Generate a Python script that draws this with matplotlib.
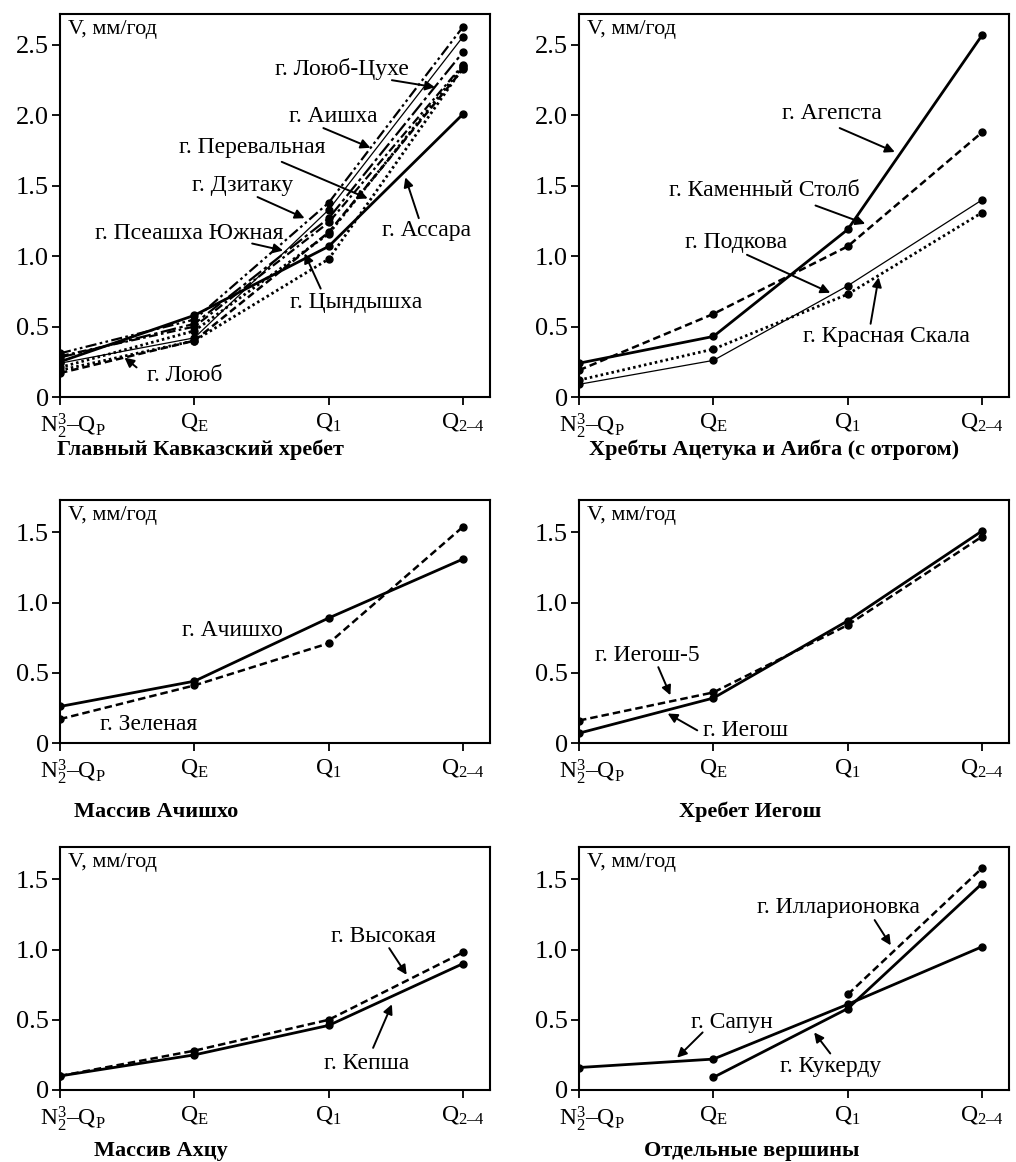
import numpy as np
import matplotlib.pyplot as plt
import matplotlib.transforms as mtransforms

plt.rcParams["font.family"] = ["Liberation Serif", "DejaVu Serif"]
plt.rcParams["mathtext.fontset"] = "custom"
plt.rcParams["mathtext.rm"] = "Liberation Serif"
plt.rcParams["mathtext.it"] = "Liberation Serif:italic"
plt.rcParams["mathtext.bf"] = "Liberation Serif:bold"

# ── Data ──────────────────────────────────────────────────────────────────────

STAGES = [r"$\mathrm{N}_2^3$–$\mathrm{Q}_\mathrm{P}$", r"$\mathrm{Q}_\mathrm{E}$",
          r"$\mathrm{Q}_1$", r"$\mathrm{Q}_{\mathrm{2–4}}$"]
X = [0, 1, 2, 3]
Y_LABEL = "V, мм/год"

# Главный Кавказский хребет
AISHKHA      = [0.31, 0.55, 1.38, 2.63]
LOYUB_TSUKHE = [0.24, 0.42, 1.33, 2.56]
PEREVALNAYA  = [0.28, 0.52, 1.27, 2.45]
DZITAKU      = [0.29, 0.50, 1.24, 2.36]
PSEASHKHA    = [0.21, 0.47, 1.16, 2.35]
TSYNDYSHKHA  = [0.19, 0.40, 0.98, 2.34]
ASSARA       = [0.25, 0.58, 1.07, 2.01]
LOYUB        = [0.17, 0.40, 1.17, 2.33]

# Хребты Ацетука и Аибга
AGEPSTA  = [0.24, 0.43, 1.19, 2.57]
KAMENNY  = [0.19, 0.59, 1.07, 1.88]
PODKOVA  = [0.09, 0.26, 0.79, 1.40]
KRASNAYA = [0.12, 0.34, 0.73, 1.31]

# Массив Ачишхо
ACHISHKHO = [0.26, 0.44, 0.89, 1.31]
ZELENAYA  = [0.17, 0.41, 0.71, 1.54]

# Хребет Иегош
IEGOSH  = [0.07, 0.32, 0.87, 1.51]
IEGOSH5 = [0.16, 0.36, 0.84, 1.47]

# Массив Ахцу
KEPSHA   = [0.10, 0.25, 0.46, 0.90]
VYSOKAYA = [0.10, 0.28, 0.50, 0.98]

# Отдельные вершины
SAPUN        = [0.16, 0.22, 0.61, 1.02]
KUKERDU      = [None, 0.09, 0.58, 1.47]
ILLARIONOVKA = [None, None, 0.68, 1.58]

TITLES = ["Главный Кавказский хребет", "Хребты Ацетука и Аибга (с отрогом)",
          "Массив Ачишхо", "Хребет Иегош", "Массив Ахцу", "Отдельные вершины"]

# ── Styles ────────────────────────────────────────────────────────────────────

THICK  = dict(ls="-", lw=2.0)
THIN   = dict(ls="-", lw=0.9)
DASHED = dict(ls=(0, (3, 1.6)), lw=1.8)
DOTTED = dict(ls=(0, (0.9, 1.1)), lw=2.0)
DDOT   = dict(ls=(0, (5, 1.5, 1.2, 1.5, 1.2, 1.5)), lw=1.6)
DDASH  = dict(ls=(0, (7, 1.6, 1.5, 1.6)), lw=1.6)
DDSH2  = dict(ls=(0, (4, 1.5, 1.2, 1.5)), lw=1.6)


def draw(ax, series, ymax, yticks):
    for vals, st in series:
        y = np.array(vals, dtype=float)
        ax.plot(X, y, color="black", marker="o", ms=5, solid_capstyle="butt",
                dash_capstyle="butt", **st)
    ax.set_xlim(0, 3.2)
    ax.set_ylim(0, ymax)
    ax.set_xticks(X)
    ax.set_xticklabels(STAGES, fontsize=17)
    ax.set_yticks(yticks)
    ax.set_yticklabels(["0" if t == 0 else f"{t:.1f}" for t in yticks], fontsize=19)
    ax.tick_params(direction="out", length=6, width=1.3, pad=2)
    ax.tick_params(axis="x", pad=4)
    for s in ax.spines.values():
        s.set_linewidth(1.5)
    lab = ax.get_xticklabels()[0]
    lab.set_transform(lab.get_transform() +
                      mtransforms.ScaledTranslation(13 / 100, 0, ax.figure.dpi_scale_trans))
    ax.annotate(Y_LABEL, xy=(0, 1), xycoords="axes fraction", xytext=(6, -4),
                textcoords="offset points", ha="left", va="top", fontsize=16)


def label(ax, text, pos, tail=None, tip=None):
    ax.text(pos[0], pos[1], text, ha="center", va="center", fontsize=17)
    if tail is not None:
        ax.annotate("", xy=tip, xytext=tail,
                    arrowprops=dict(arrowstyle="-|>", color="black", lw=1.4,
                                    mutation_scale=14, shrinkA=0, shrinkB=0))


fig = plt.figure(figsize=(10.16, 11.62), dpi=100)
W, H = 1016, 1162
def axes_at(left, top, width, height):
    return fig.add_axes([left / W, (H - top - height) / H, width / W, height / H])

ax1 = axes_at(60, 14, 430, 383)
ax2 = axes_at(579, 14, 430, 383)
ax3 = axes_at(60, 500, 430, 243)
ax4 = axes_at(579, 500, 430, 243)
ax5 = axes_at(60, 847, 430, 243)
ax6 = axes_at(579, 847, 430, 243)

draw(ax1, [(AISHKHA, DDOT), (LOYUB_TSUKHE, THIN), (PEREVALNAYA, DDASH),
           (DZITAKU, DDSH2), (PSEASHKHA, DOTTED), (TSYNDYSHKHA, DOTTED),
           (LOYUB, DASHED), (ASSARA, THICK)], 2.72, [0, 0.5, 1.0, 1.5, 2.0, 2.5])
label(ax1, "г. Лоюб-Цухе", (2.10, 2.33), (2.47, 2.25), (2.79, 2.20))
label(ax1, "г. Аишха", (2.03, 1.99), (1.96, 1.91), (2.31, 1.77))
label(ax1, "г. Перевальная", (1.43, 1.77), (1.65, 1.67), (2.29, 1.41))
label(ax1, "г. Дзитаку", (1.36, 1.50), (1.47, 1.42), (1.82, 1.27))
label(ax1, "г. Псеашха Южная", (0.96, 1.16), (1.43, 1.09), (1.66, 1.04))
label(ax1, "г. Цындышха", (2.20, 0.67), (1.94, 0.77), (1.82, 1.02))
label(ax1, "г. Ассара", (2.73, 1.18), (2.67, 1.27), (2.57, 1.56))
label(ax1, "г. Лоюб", (0.93, 0.15), (0.57, 0.21), (0.48, 0.28))

draw(ax2, [(AGEPSTA, THICK), (KAMENNY, DASHED), (PODKOVA, THIN),
           (KRASNAYA, DOTTED)], 2.72, [0, 0.5, 1.0, 1.5, 2.0, 2.5])
label(ax2, "г. Агепста", (1.88, 2.01), (1.94, 1.91), (2.35, 1.74))
label(ax2, "г. Каменный Столб", (1.38, 1.47), (1.76, 1.36), (2.13, 1.23))
label(ax2, "г. Подкова", (1.17, 1.10), (1.25, 1.01), (1.87, 0.74))
label(ax2, "г. Красная Скала", (2.29, 0.43), (2.17, 0.52), (2.23, 0.85))

draw(ax3, [(ACHISHKHO, THICK), (ZELENAYA, DASHED)], 1.73, [0, 0.5, 1.0, 1.5])
label(ax3, "г. Ачишхо", (1.28, 0.80))
label(ax3, "г. Зеленая", (0.66, 0.13))

draw(ax4, [(IEGOSH, THICK), (IEGOSH5, DASHED)], 1.73, [0, 0.5, 1.0, 1.5])
label(ax4, "г. Иегош-5", (0.51, 0.62), (0.59, 0.54), (0.68, 0.34))
label(ax4, "г. Иегош", (1.24, 0.09), (0.88, 0.09), (0.66, 0.21))

draw(ax5, [(VYSOKAYA, DASHED), (KEPSHA, THICK)], 1.73, [0, 0.5, 1.0, 1.5])
label(ax5, "г. Высокая", (2.41, 1.09), (2.45, 1.01), (2.58, 0.82))
label(ax5, "г. Кепша", (2.28, 0.19), (2.33, 0.30), (2.47, 0.61))

draw(ax6, [(ILLARIONOVKA, DASHED), (SAPUN, THICK), (KUKERDU, THICK)], 1.73,
     [0, 0.5, 1.0, 1.5])
label(ax6, "г. Илларионовка", (1.93, 1.30), (2.20, 1.21), (2.32, 1.03))
label(ax6, "г. Сапун", (1.14, 0.48), (0.92, 0.41), (0.73, 0.23))
label(ax6, "г. Кукерду", (1.87, 0.17), (1.87, 0.26), (1.75, 0.41))

for (cx, cy), t in zip([(200, 450), (774, 450), (156, 812), (750, 812),
                        (161, 1151), (752, 1151)], TITLES):
    fig.text(cx / W, 1 - cy / H, t, ha="center", va="center",
             fontsize=16, fontweight="bold")

plt.savefig("out.png", dpi=100)
